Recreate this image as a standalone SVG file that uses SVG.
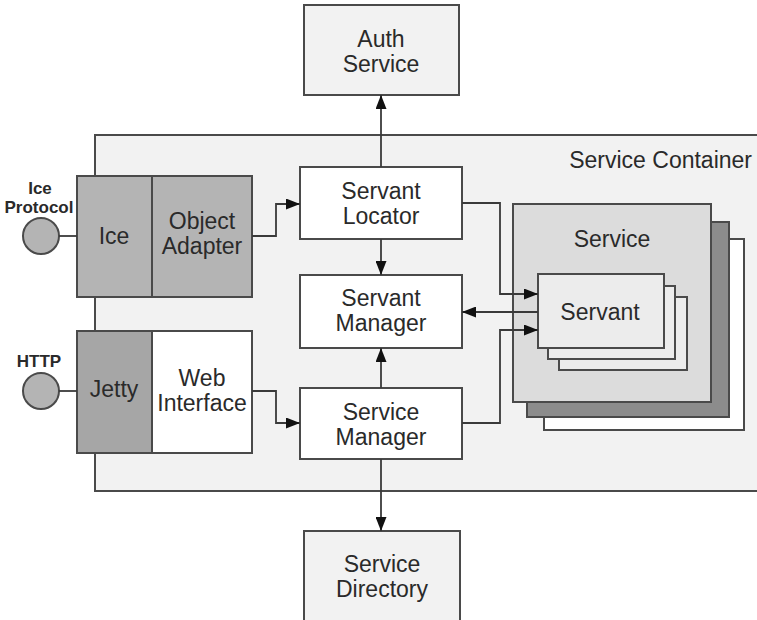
<svg xmlns="http://www.w3.org/2000/svg" width="757" height="620" viewBox="0 0 757 620">
  <style>
    .box { stroke: #4a4a4a; stroke-width: 2; }
    .lbl { font-family: "Liberation Sans", Arial, sans-serif; font-size: 23px; fill: #2a2a2a; text-anchor: middle; }
    .small { font-family: "Liberation Sans", Arial, sans-serif; font-size: 17px; font-weight: bold; fill: #2a2a2a; text-anchor: middle; }
    .wire { fill: none; stroke: #3a3a3a; stroke-width: 1.8; }
  </style>
  <defs>
    <marker id="arrow" viewBox="0 0 14 11" refX="14" refY="5.5" markerWidth="14" markerHeight="11" markerUnits="userSpaceOnUse" orient="auto">
      <path d="M0,0 L14,5.5 L0,11 Z" fill="#111"/>
    </marker>
  </defs>

  <rect width="757" height="620" fill="#ffffff"/>

  <!-- container frame (open on the right) -->
  <g id="service-container">
    <rect x="95" y="135" width="670" height="356" fill="#f2f2f2" class="box"/>
    <text x="752" y="168" class="lbl" style="text-anchor:end">Service Container</text>
  </g>

  <g id="auth-service">
    <rect x="304" y="5" width="155" height="90" fill="#f2f2f2" class="box"/>
    <text x="381" y="47" class="lbl">Auth</text>
    <text x="381" y="72" class="lbl">Service</text>
  </g>

  <g id="service-directory">
    <rect x="304" y="531" width="156" height="100" fill="#f2f2f2" class="box"/>
    <text x="382" y="572" class="lbl">Service</text>
    <text x="382" y="597" class="lbl">Directory</text>
  </g>

  <g id="ice-protocol">
    <circle cx="41" cy="236" r="18" fill="#b4b4b4" stroke="#4a4a4a" stroke-width="2"/>
    <text x="40" y="194" class="small">Ice</text>
    <text x="39" y="213" class="small">Protocol</text>
  </g>

  <g id="http">
    <circle cx="41" cy="391" r="18" fill="#b4b4b4" stroke="#4a4a4a" stroke-width="2"/>
    <text x="39" y="367" class="small">HTTP</text>
  </g>

  <g id="ice">
    <rect x="77" y="176" width="75" height="121" fill="#b4b4b4" class="box"/>
    <text x="114" y="244" class="lbl">Ice</text>
  </g>

  <g id="object-adapter">
    <rect x="152" y="176" width="100" height="121" fill="#b4b4b4" class="box"/>
    <text x="202" y="229" class="lbl">Object</text>
    <text x="202" y="254" class="lbl">Adapter</text>
  </g>

  <g id="jetty">
    <rect x="77" y="331" width="75" height="122" fill="#a6a6a6" class="box"/>
    <text x="114" y="397" class="lbl">Jetty</text>
  </g>

  <g id="web-interface">
    <rect x="152" y="331" width="100" height="122" fill="#ffffff" class="box"/>
    <text x="202" y="386" class="lbl">Web</text>
    <text x="202" y="411" class="lbl">Interface</text>
  </g>

  <g id="servant-locator">
    <rect x="300" y="167" width="162" height="72" fill="#ffffff" class="box"/>
    <text x="381" y="199" class="lbl">Servant</text>
    <text x="381" y="224" class="lbl">Locator</text>
  </g>

  <g id="servant-manager">
    <rect x="300" y="275" width="162" height="73" fill="#ffffff" class="box"/>
    <text x="381" y="306" class="lbl">Servant</text>
    <text x="381" y="331" class="lbl">Manager</text>
  </g>

  <g id="service-manager">
    <rect x="300" y="388" width="162" height="71" fill="#ffffff" class="box"/>
    <text x="381" y="420" class="lbl">Service</text>
    <text x="381" y="445" class="lbl">Manager</text>
  </g>

  <!-- stacked service instances -->
  <g id="service">
    <rect x="544" y="239" width="200" height="191" fill="#ffffff" class="box"/>
    <rect x="527" y="222" width="202" height="195" fill="#8c8c8c" class="box"/>
    <rect x="513" y="204" width="198" height="198" fill="#dcdcdc" class="box"/>
    <text x="612" y="247" class="lbl">Service</text>
  </g>

  <g id="servant">
    <rect x="559" y="297" width="128" height="73" fill="#ececec" class="box"/>
    <rect x="548" y="286" width="127" height="73" fill="#ececec" class="box"/>
    <rect x="538" y="274" width="126" height="74" fill="#ececec" class="box"/>
    <text x="600" y="320" class="lbl">Servant</text>
  </g>

  <g id="connectors">
    <line x1="59" y1="236" x2="77" y2="236" class="wire"/>
    <line x1="59" y1="391" x2="77" y2="391" class="wire"/>
    <path d="M252,236 H276 V204 H300" class="wire" marker-end="url(#arrow)"/>
    <path d="M252,391 H276 V423 H300" class="wire" marker-end="url(#arrow)"/>
    <path d="M381,167 V95" class="wire" marker-end="url(#arrow)"/>
    <path d="M381,239 V275" class="wire" marker-end="url(#arrow)"/>
    <path d="M381,388 V348" class="wire" marker-end="url(#arrow)"/>
    <path d="M381,459 V531" class="wire" marker-end="url(#arrow)"/>
    <path d="M462,203 H500 V294 H538" class="wire" marker-end="url(#arrow)"/>
    <path d="M538,312 H462" class="wire" marker-end="url(#arrow)"/>
    <path d="M462,423 H500 V330 H538" class="wire" marker-end="url(#arrow)"/>
  </g>
</svg>
